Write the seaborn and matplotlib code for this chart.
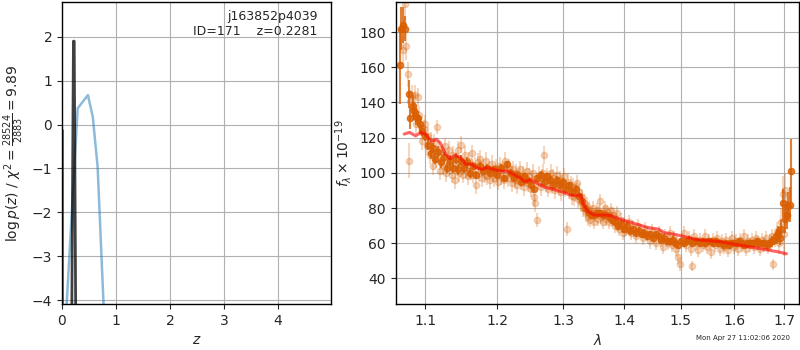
import numpy as np
import pandas as pd
import matplotlib
matplotlib.use('Agg')
import matplotlib.pyplot as plt
import matplotlib.ticker as mticker
import seaborn as sns

# --- p(z) panel ---
z_fine = [0.006, 0.006, 0.18, 0.212, 0.226, 0.255]
logp_fine = [-0.13, -4.6, -4.6, 1.9, 1.9, -4.6]
z_coarse = [0.086, 0.29, 0.48, 0.57, 0.66, 0.77]
logp_coarse = [-4.1, 0.37, 0.67, 0.18, -0.96, -4.1]

# --- spectrum panel ---
wl_model = [1.072, 1.079, 1.087, 1.094, 1.100, 1.108, 1.115, 1.120, 1.127, 1.133,
            1.140, 1.147, 1.155, 1.163, 1.170, 1.178, 1.185, 1.195, 1.205, 1.215,
            1.225, 1.235, 1.240, 1.250, 1.260, 1.270, 1.280, 1.290, 1.300, 1.310,
            1.320, 1.328, 1.333, 1.340, 1.350, 1.360, 1.370, 1.380, 1.390, 1.400,
            1.420, 1.440, 1.460, 1.470, 1.490, 1.510, 1.530, 1.550, 1.570, 1.590,
            1.610, 1.630, 1.650, 1.670, 1.690, 1.705]
fl_model = [122, 123, 121, 123, 122, 118, 119, 117, 111, 108,
            110, 109, 105, 105, 103, 102, 103, 102, 101, 101,
            99, 97, 95, 96, 94, 92, 91, 90, 89, 87.5,
            87, 87.5, 82, 78, 76, 76, 76, 75.5, 74, 73,
            71, 69, 68, 66, 65, 63.5, 62, 61.5, 61, 60,
            59, 58, 57, 56, 55, 54]

wl_bin = [1.066, 1.068, 1.070, 1.073, 1.078, 1.080, 1.083, 1.085, 1.088, 1.090,
          1.093, 1.096, 1.100, 1.104, 1.107, 1.110, 1.113, 1.117, 1.121, 1.125,
          1.129, 1.133, 1.137, 1.141, 1.145, 1.149, 1.153, 1.157, 1.161, 1.165,
          1.170, 1.175, 1.180, 1.185, 1.190, 1.195, 1.200, 1.205, 1.210, 1.215,
          1.220, 1.225, 1.230, 1.235, 1.240, 1.245, 1.250, 1.255, 1.260, 1.265,
          1.270, 1.275, 1.280, 1.285, 1.290, 1.295, 1.300, 1.305, 1.310, 1.315,
          1.320, 1.325, 1.330, 1.335, 1.340, 1.345, 1.350, 1.355, 1.360, 1.365,
          1.370, 1.375, 1.380, 1.385, 1.390, 1.395, 1.400, 1.405, 1.410, 1.415,
          1.420, 1.425, 1.430, 1.435, 1.440, 1.445, 1.450, 1.455, 1.460, 1.465,
          1.470, 1.475, 1.480, 1.485, 1.490, 1.495, 1.500, 1.505, 1.510, 1.515,
          1.520, 1.525, 1.530, 1.535, 1.540, 1.545, 1.550, 1.555, 1.560, 1.565,
          1.570, 1.575, 1.580, 1.585, 1.590, 1.595, 1.600, 1.605, 1.610, 1.615,
          1.620, 1.625, 1.630, 1.635, 1.640, 1.645, 1.650, 1.655, 1.660, 1.665,
          1.670, 1.675, 1.680, 1.685, 1.688, 1.691, 1.694, 1.698, 1.703, 1.706,
          1.709, 1.712, 1.715]
fl_bin = [161, 182, 184, 182, 145, 131, 138, 135, 132, 131,
          128, 124, 121, 116, 111, 114, 108, 112, 106, 109,
          103, 107, 103, 108, 102, 107, 103, 106, 100, 104,
          99, 104, 101, 103, 100, 102, 99, 103, 97, 105,
          100, 97, 99, 95, 98, 96, 93, 91, 97, 99,
          95, 98, 96, 93, 96, 93, 95, 91, 93, 89,
          91, 87, 84, 80, 78, 76, 76, 77, 77, 76,
          76, 75, 73, 72, 70, 71, 68, 70, 67, 68,
          66, 67, 65, 66, 64, 65, 63, 65, 64, 62,
          63, 61, 61, 62, 60, 59, 61, 60, 61, 62,
          60, 61, 61, 60, 61, 60, 61, 61, 60, 61,
          60, 60, 59, 60, 59, 60, 60, 60, 61, 60,
          59, 60, 60, 60, 60, 61, 60, 60, 60, 59,
          60, 61, 62, 64, 66, 63, 68, 83, 74, 76,
          81, 82, 101]
er_bin = [22, 12, 10, 7, 8, 6, 6, 5, 5, 4,
          4, 3, 3, 3, 3, 3, 3, 3, 3, 3,
          3, 3, 3, 3, 3, 3, 3, 3, 3, 2,
          2, 2, 2, 2, 2, 2, 2, 2, 2, 2,
          2, 2, 2, 2, 2, 2, 2, 2, 2, 2,
          2, 2, 2, 2, 2, 2, 2, 2, 2, 2,
          2, 2, 2, 2, 2, 2, 2, 2, 2, 2,
          2, 2, 2, 2, 2, 2, 2, 2, 2, 2,
          2, 2, 2, 2, 2, 2, 2, 2, 2, 2,
          2, 2, 2, 2, 2, 2, 2, 2, 2, 2,
          2, 2, 2, 2, 2, 2, 2, 2, 2, 2,
          2, 2, 2, 2, 2, 2, 2, 2, 2, 2,
          2, 2, 2, 2, 2, 2, 2, 2, 2, 2,
          2, 3, 3, 4, 4, 4, 5, 8, 8, 8,
          8, 10, 18]

wl_raw = [1.071, 1.073, 1.075, 1.077, 1.078, 1.080, 1.082, 1.084, 1.086, 1.088,
          1.090, 1.092, 1.094, 1.096, 1.098, 1.100, 1.102, 1.104, 1.106, 1.108,
          1.110, 1.112, 1.114, 1.116, 1.118, 1.120, 1.122, 1.124, 1.126, 1.128,
          1.130, 1.132, 1.134, 1.136, 1.138, 1.140, 1.142, 1.144, 1.146, 1.148,
          1.150, 1.152, 1.154, 1.156, 1.158, 1.160, 1.162, 1.164, 1.166, 1.168,
          1.170, 1.172, 1.174, 1.176, 1.178, 1.180, 1.182, 1.184, 1.186, 1.188,
          1.190, 1.192, 1.194, 1.196, 1.198, 1.200, 1.202, 1.204, 1.206, 1.208,
          1.210, 1.212, 1.214, 1.216, 1.218, 1.220, 1.222, 1.224, 1.226, 1.228,
          1.230, 1.232, 1.234, 1.236, 1.238, 1.240, 1.242, 1.244, 1.246, 1.248,
          1.250, 1.252, 1.254, 1.255, 1.257, 1.259, 1.261, 1.263, 1.265, 1.267,
          1.269, 1.271, 1.273, 1.275, 1.277, 1.279, 1.281, 1.283, 1.285, 1.287,
          1.289, 1.291, 1.293, 1.295, 1.297, 1.299, 1.301, 1.303, 1.306, 1.308,
          1.310, 1.312, 1.314, 1.316, 1.318, 1.320, 1.322, 1.324, 1.326, 1.328,
          1.330, 1.332, 1.334, 1.336, 1.338, 1.340, 1.342, 1.344, 1.346, 1.348,
          1.350, 1.352, 1.354, 1.356, 1.358, 1.360, 1.362, 1.364, 1.366, 1.368,
          1.370, 1.372, 1.374, 1.376, 1.378, 1.380, 1.382, 1.384, 1.386, 1.388,
          1.390, 1.392, 1.394, 1.396, 1.398, 1.400, 1.404, 1.408, 1.412, 1.416,
          1.420, 1.424, 1.428, 1.432, 1.436, 1.440, 1.444, 1.448, 1.452, 1.456,
          1.460, 1.464, 1.468, 1.472, 1.476, 1.480, 1.484, 1.488, 1.492, 1.495,
          1.499, 1.502, 1.506, 1.510, 1.514, 1.518, 1.520, 1.524, 1.528, 1.532,
          1.536, 1.540, 1.544, 1.548, 1.552, 1.556, 1.560, 1.564, 1.568, 1.572,
          1.576, 1.580, 1.584, 1.588, 1.592, 1.596, 1.600, 1.604, 1.608, 1.612,
          1.616, 1.620, 1.624, 1.628, 1.632, 1.636, 1.640, 1.644, 1.648, 1.652,
          1.656, 1.660, 1.664, 1.668, 1.672, 1.676, 1.678, 1.682, 1.686, 1.690,
          1.694, 1.697, 1.700, 1.702, 1.705]
fl_raw = [170, 196, 172, 156, 107, 141, 144, 136, 144, 128,
          143, 133, 126, 118, 125, 128, 115, 121, 110, 118,
          104, 117, 108, 126, 113, 101, 111, 104, 115, 100,
          108, 113, 104, 99, 110, 96, 105, 113, 100, 116,
          104, 99, 110, 102, 98, 107, 101, 111, 99, 104,
          93, 106, 100, 108, 97, 103, 99, 107, 98, 102,
          96, 105, 100, 97, 103, 99, 95, 104, 98, 102,
          96, 107, 101, 97, 103, 99, 94, 102, 96, 100,
          93, 98, 102, 95, 99, 92, 97, 101, 94, 98,
          91, 96, 100, 86, 83, 73, 95, 99, 92, 97,
          100, 110, 94, 98, 91, 96, 100, 93, 97, 90,
          95, 99, 92, 96, 89, 94, 98, 91, 68, 95,
          90, 93, 87, 92, 86, 90, 94, 85, 89, 83,
          86, 80, 83, 77, 81, 75, 79, 73, 77, 80,
          72, 76, 79, 74, 78, 84, 75, 72, 77, 80,
          74, 78, 72, 76, 79, 73, 76, 70, 74, 77,
          71, 68, 73, 70, 66, 71, 68, 72, 66, 69,
          64, 70, 67, 63, 68, 65, 61, 67, 64, 60,
          66, 62, 58, 64, 60, 66, 59, 63, 57, 52,
          48, 62, 66, 59, 63, 57, 47, 64, 60, 56,
          62, 59, 64, 58, 61, 55, 62, 59, 63, 57,
          61, 58, 62, 56, 60, 63, 58, 61, 57, 62,
          59, 64, 57, 61, 59, 62, 58, 63, 60, 57,
          62, 59, 63, 58, 61, 64, 48, 62, 67, 60,
          72, 88, 65, 90, 78]
er_raw = [8, 10, 8, 7, 10, 6, 6, 6, 6, 6,
          5, 5, 5, 5, 5, 5, 5, 5, 5, 5,
          5, 5, 5, 4, 5, 5, 5, 5, 5, 5,
          5, 5, 5, 5, 5, 5, 5, 5, 5, 5,
          5, 5, 5, 5, 5, 5, 5, 5, 5, 5,
          5, 5, 5, 5, 5, 5, 5, 5, 5, 5,
          5, 5, 5, 5, 5, 5, 5, 5, 5, 5,
          5, 5, 5, 5, 5, 5, 5, 5, 5, 5,
          5, 5, 5, 5, 5, 5, 5, 5, 5, 5,
          5, 5, 5, 5, 5, 4, 5, 5, 5, 5,
          5, 5, 5, 5, 5, 5, 5, 5, 5, 5,
          5, 5, 5, 5, 5, 5, 5, 5, 4, 5,
          5, 5, 5, 5, 5, 5, 5, 5, 5, 5,
          5, 5, 5, 5, 5, 5, 5, 4, 4, 4,
          4, 4, 4, 4, 4, 4, 4, 4, 4, 4,
          4, 4, 4, 4, 4, 4, 4, 4, 4, 4,
          4, 4, 4, 4, 4, 4, 4, 4, 4, 4,
          4, 4, 4, 4, 4, 4, 4, 4, 4, 4,
          4, 4, 4, 4, 4, 4, 4, 4, 4, 4,
          4, 4, 4, 4, 4, 4, 3, 4, 4, 4,
          4, 4, 4, 4, 4, 4, 4, 4, 4, 4,
          4, 4, 4, 4, 4, 4, 4, 4, 4, 4,
          4, 4, 4, 4, 4, 4, 4, 4, 4, 4,
          4, 4, 4, 4, 4, 4, 3, 4, 5, 6,
          8, 10, 12, 10, 10]

xticks_z = [0, 1, 2, 3, 4]
xticks_wl = [1.1, 1.2, 1.3, 1.4, 1.5, 1.6, 1.7]

sns.set_style("white")
plt.rcParams['font.family'] = ['DejaVu Sans']

fig = plt.figure(figsize=(8, 3.5), dpi=100)
ax1 = fig.add_axes([0.0775, 0.131, 0.336, 0.863])
ax2 = fig.add_axes([0.4946, 0.131, 0.504, 0.863])

orange = '#d95f02'

# p(z)
sns.lineplot(x=z_coarse, y=logp_coarse, ax=ax1, color='#1f77b4', alpha=0.5,
             linewidth=1.8, sort=False, estimator=None)
sns.lineplot(x=z_fine, y=logp_fine, ax=ax1, color='k', alpha=0.75,
             linewidth=2.0, sort=False, estimator=None)
ax1.set_xlim(0, 4.98)
ax1.set_ylim(-4.09, 2.79)
ax1.set_xticks(xticks_z)
ax1.grid(True, color='#b0b0b0', linewidth=0.8)
ax1.set_xlabel('$z$')
ax1.set_ylabel(r'$\log p(z)$ / $\chi^2=\frac{28524}{2883}=9.89$')
ax1.text(0.95, 0.975, 'j163852p4039\nID=171    z=0.2281', transform=ax1.transAxes,
         ha='right', va='top', fontsize=9)

# spectrum
ax2.set_xscale('log')
ax2.errorbar(wl_raw, fl_raw, yerr=er_raw, fmt='o', color=orange, alpha=0.25,
             markersize=4.5, elinewidth=1.5, zorder=1)
ax2.errorbar(wl_bin, fl_bin, yerr=er_bin, fmt='o', color=orange, alpha=0.8,
             markersize=4.5, elinewidth=1.5, zorder=2)
sns.lineplot(x=wl_model, y=fl_model, ax=ax2, color='red', alpha=0.6,
             linewidth=2.2, sort=False, estimator=None, zorder=3)
ax2.set_xlim(1.061, 1.731)
ax2.set_ylim(25.4, 197)
ax2.set_xticks(xticks_wl)
ax2.xaxis.set_major_formatter(mticker.FixedFormatter([str(t) for t in xticks_wl]))
ax2.xaxis.set_minor_locator(mticker.NullLocator())
ax2.grid(True, color='#b0b0b0', linewidth=0.8)
ax2.set_xlabel(r'$\lambda$')
ax2.set_ylabel(r'$f_\lambda\times10^{-19}$')

for ax in (ax1, ax2):
    ax.tick_params(left=True, bottom=True, length=3.5, width=0.8, labelsize=10)
    for s in ax.spines.values():
        s.set_color('black')
        s.set_linewidth(1.0)

fig.text(0.9875, 0.025, 'Mon Apr 27 11:02:06 2020', ha='right', va='bottom', fontsize=5)

fig.savefig('out.png', dpi=100)
